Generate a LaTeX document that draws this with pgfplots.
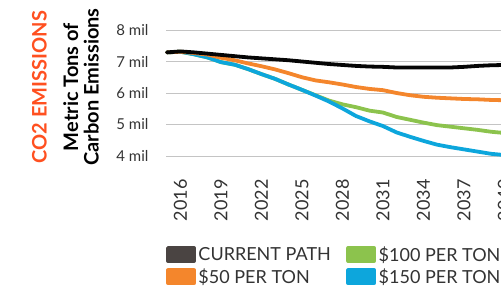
\documentclass[border=0pt]{standalone}
\usepackage{pgfplots}
\pgfplotsset{compat=1.18}
\usepackage{fontspec}
\setmainfont{Lato}
\definecolor{curline}{HTML}{050505}
\definecolor{curleg}{HTML}{4A4442}
\definecolor{orangeL}{HTML}{F4862C}
\definecolor{greenL}{HTML}{8CC34D}
\definecolor{blueL}{HTML}{0DA6DC}
\definecolor{titleC}{HTML}{FF5020}
\definecolor{gridC}{HTML}{C4C4C4}
\definecolor{textC}{HTML}{333333}
\pgfplotstableread{
year cur p50 p100 p150
2015 7.29 7.29 7.29 7.29
2016 7.32 7.31 7.31 7.31
2017 7.29 7.27 7.23 7.23
2018 7.25 7.22 7.13 7.13
2019 7.21 7.12 6.98 6.98
2020 7.17 7.04 6.90 6.90
2021 7.13 6.94 6.76 6.76
2022 7.10 6.85 6.60 6.60
2023 7.07 6.75 6.45 6.45
2024 7.04 6.63 6.27 6.27
2025 7.00 6.50 6.10 6.10
2026 6.96 6.40 5.93 5.92
2027 6.92 6.34 5.76 5.73
2028 6.89 6.27 5.64 5.51
2029 6.86 6.19 5.55 5.27
2030 6.84 6.13 5.44 5.10
2031 6.83 6.09 5.38 4.95
2032 6.81 6.00 5.24 4.75
2033 6.81 5.93 5.15 4.61
2034 6.81 5.88 5.06 4.48
2035 6.81 5.85 4.98 4.36
2036 6.81 5.83 4.93 4.28
2037 6.83 5.81 4.88 4.21
2038 6.86 5.80 4.83 4.14
2039 6.88 5.78 4.77 4.07
2040 6.89 5.77 4.73 4.03
}\emissions
\begin{document}
\begin{tikzpicture}
\path[use as bounding box, clip] (0pt,0pt) rectangle (501pt,292pt);
\node[rotate=90, font=\bfseries\fontsize{20}{20}\selectfont, text=titleC, inner sep=0pt] at (39.5pt,205pt) {CO2 EMISSIONS};
\node[rotate=90, font=\bfseries\fontsize{20}{20.5}\selectfont, text=black, align=center, inner sep=0pt] at (81pt,205pt) {Metric Tons of\\Carbon Emissions};
\begin{axis}[
  at={(166pt,136pt)}, anchor=south west,
  scale only axis, width=352pt, height=126pt,
  xmin=2014.93, xmax=2041, ymin=4, ymax=8,
  axis line style={draw=none},
  major tick length=0pt,
  ymajorgrids, grid style={draw=gridC, line width=0.9pt},
  ytick={4,5,6,7,8},
  yticklabels={4 mil,5 mil,6 mil,7 mil,8 mil},
  yticklabel style={font=\fontsize{15}{15}\selectfont, text=textC, anchor=east, xshift=-14pt},
  xtick={2016,2019,2022,2025,2028,2031,2034,2037,2040},
  xticklabels={2016,2019,2022,2025,2028,2031,2034,2037,2040},
  xticklabel style={font=\fontsize{18}{18}\selectfont, text=textC, rotate=90, anchor=east},
  xticklabel shift=20pt,
  clip=false,
  legend columns=2,
  legend cell align=left,
  legend style={at={(0.0,-0.70)}, anchor=north west, draw=none, fill=none,
    font=\fontsize{18}{18}\selectfont, text=textC, inner sep=0pt, row sep=2pt,
    nodes={inner xsep=2.5pt},
    /tikz/every even column/.append style={column sep=13pt}},
  every axis plot/.append style={line width=3.8pt, line join=round, line cap=round},
]
\addplot[greenL, forget plot] table[x=year, y=p100] {\emissions};
\addplot[blueL, forget plot] table[x=year, y=p150] {\emissions};
\addplot[orangeL, forget plot] table[x=year, y=p50] {\emissions};
\addplot[curline, forget plot] table[x=year, y=cur] {\emissions};
\addlegendimage{legend image code/.code={\fill[curleg] (0pt,-6.5pt) rectangle (26pt,6.5pt);}}
\addlegendentry{CURRENT PATH}
\addlegendimage{legend image code/.code={\fill[greenL] (0pt,-6.5pt) rectangle (26pt,6.5pt);}}
\addlegendentry{\$100 PER TON}
\addlegendimage{legend image code/.code={\fill[orangeL] (0pt,-6.5pt) rectangle (26pt,6.5pt);}}
\addlegendentry{\$50 PER TON}
\addlegendimage{legend image code/.code={\fill[blueL] (0pt,-6.5pt) rectangle (26pt,6.5pt);}}
\addlegendentry{\$150 PER TON}
\end{axis}
\end{tikzpicture}
\end{document}
